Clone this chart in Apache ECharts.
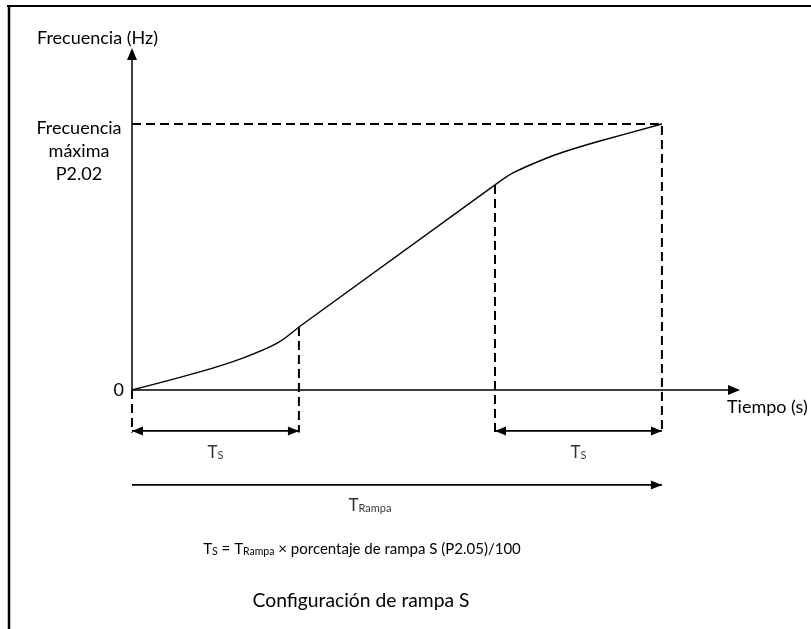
<!DOCTYPE html>
<html>
<head>
<meta charset="utf-8">
<script src="https://cdn.jsdelivr.net/npm/echarts@6/dist/echarts.min.js"></script>
<style>
  html, body { margin: 0; padding: 0; background: #fff; }
  #chart { width: 811px; height: 629px; }
</style>
</head>
<body>
<div id="chart"></div>
<script>
// Time in % of T_Rampa, frequency in % of the maximum frequency (P2.02)
const rampEnd = 100;
const maxFreq = 100;
const sStartEnd = 31.5;   // end of the first S segment (Ts)
const sEndStart = 68.5;   // start of the last S segment (T_Rampa - Ts)

// S-curve, split into its three parts
const startCurveX = [0, 12.8, 20.9, 27.4, 31.5];
const startCurveY = [0, 6.8, 12.0, 17.6, 23.7];
const linearX = [31.5, 68.5];
const linearY = [23.7, 77.1];
const endCurveX = [68.5, 71.9, 78.3, 82.6, 88.3, 100];
const endCurveY = [77.1, 81.6, 87.2, 90.2, 93.6, 100];

// Levels below the time axis used by the dimension arrows
const guideBottom = -16;
const tsArrowLevel = -15.4;
const rampArrowLevel = -35.7;
const tsLabelLevel = -22.6;
const rampLabelLevel = -42.5;
const rampLabelX = 44.9;

const yTickLabels = ['0', 'Frecuencia\nmáxima\nP2.02'];
const xAxisName = 'Tiempo (s)';
const yAxisName = 'Frecuencia (Hz)';
const formulaParts = ['T', 'S', ' = T', 'Rampa', ' × porcentaje de rampa S (P2.05)/100'];
const chartTitle = 'Configuración de rampa S';

const FONT = 'Lato';
const INK = '#000';

const zip = (xs, ys) => xs.map((x, i) => [x, ys[i]]);

function guide(points) {
  return {
    type: 'line', data: points, symbol: 'none', clip: false, silent: true,
    lineStyle: { color: INK, width: 2, type: [9, 5] }, z: 3
  };
}

function dimensionArrow(x0, x1, y, both) {
  const head = [9, 11];
  const pts = [
    { value: [x0, y], symbol: both ? 'triangle' : 'none', symbolSize: head, symbolRotate: 90, symbolOffset: [head[1] / 2, 0] },
    { value: [x1, y], symbol: 'triangle', symbolSize: head, symbolRotate: -90, symbolOffset: [-head[1] / 2, 0] }
  ];
  return {
    type: 'line', data: pts, clip: false, silent: true, showSymbol: true,
    itemStyle: { color: INK }, lineStyle: { color: INK, width: 1.8 }, z: 4
  };
}

function curve(xs, ys, smooth) {
  return {
    type: 'line', data: zip(xs, ys), smooth: smooth, symbol: 'none',
    lineStyle: { color: INK, width: 1.4 }, z: 5
  };
}

const chart = echarts.init(document.getElementById('chart'), null, { renderer: 'canvas' });

const option = {
  backgroundColor: '#fff',
  animation: false,
  textStyle: { fontFamily: FONT, color: INK },
  grid: { left: 132, right: 77, top: 54, bottom: 239, containLabel: false, outerBoundsMode: 'none' },
  title: [
    {
      text: '{n|' + formulaParts[0] + '}{k|' + formulaParts[1] + '}{n|' + formulaParts[2] + '}{k|' + formulaParts[3] + '}{n|' + formulaParts[4] + '}',
      left: 357, top: 533, textAlign: 'center',
      textStyle: {
        fontWeight: 'normal',
        rich: {
          n: { fontFamily: FONT, fontSize: 15, fontWeight: 'normal', color: INK, lineHeight: 19, verticalAlign: 'bottom' },
          k: { fontFamily: FONT, fontSize: 10.5, fontWeight: 'normal', color: INK, lineHeight: 15, verticalAlign: 'bottom' }
        }
      }
    },
    {
      text: chartTitle, left: 356, top: 586, textAlign: 'center',
      textStyle: { fontFamily: FONT, fontSize: 19.3, fontWeight: 'normal', color: INK }
    }
  ],
  xAxis: {
    type: 'value', min: 0, max: 113.6,
    name: xAxisName, nameLocation: 'end', nameGap: -7,
    nameTextStyle: { fontFamily: FONT, fontSize: 18, color: INK, align: 'left', verticalAlign: 'top', padding: [8, 0, 0, 0] },
    axisLine: { show: true, onZero: true, lineStyle: { color: INK, width: 1.5 }, symbol: ['none', 'triangle'], symbolSize: [10, 12] },
    axisTick: { show: false }, axisLabel: { show: false }, splitLine: { show: false }
  },
  yAxis: {
    type: 'value', min: 0, max: 126.3, interval: maxFreq,
    name: yAxisName, nameLocation: 'end', nameGap: 7,
    nameTextStyle: { fontFamily: FONT, fontSize: 18, color: INK, align: 'center', verticalAlign: 'bottom', padding: [0, 69, 0, 0] },
    axisLine: { show: true, lineStyle: { color: INK, width: 1.5 }, symbol: ['none', 'triangle'], symbolSize: [10, 12] },
    axisTick: { show: false }, splitLine: { show: false },
    axisLabel: {
      show: true, margin: 8, color: INK, fontFamily: FONT, fontSize: 18,
      showMaxLabel: false,
      formatter: function (v) {
        if (v === 0) return yTickLabels[0];
        if (v === maxFreq) {
          return '{gap|\u00a0}\n' + yTickLabels[1].split('\n').map(s => '{m|' + s + '}').join('\n');
        }
        return '';
      },
      rich: {
        gap: { fontSize: 1, lineHeight: 54 },
        m: { fontFamily: FONT, fontSize: 18, color: INK, lineHeight: 23, width: 90, align: 'center' }
      }
    }
  },
  graphic: [
    { type: 'line', shape: { x1: 7, y1: 6, x2: 811, y2: 6 }, style: { stroke: INK, lineWidth: 2 }, silent: true },
    { type: 'line', shape: { x1: 9, y1: 5, x2: 9, y2: 629 }, style: { stroke: INK, lineWidth: 2.5 }, silent: true }
  ],
  series: [
    curve(startCurveX, startCurveY, 0.3),
    curve(linearX, linearY, false),
    curve(endCurveX, endCurveY, 0.3),

    guide([[0, maxFreq], [rampEnd, maxFreq], [rampEnd, guideBottom]]),
    guide([[sEndStart, linearY[1]], [sEndStart, guideBottom]]),
    guide([[sStartEnd, linearY[0]], [sStartEnd, guideBottom]]),
    guide([[0, 0], [0, guideBottom]]),

    dimensionArrow(0, sStartEnd, tsArrowLevel, true),
    dimensionArrow(sEndStart, rampEnd, tsArrowLevel, true),
    dimensionArrow(0, rampEnd, rampArrowLevel, false),

    {
      type: 'scatter', clip: false, silent: true, symbolSize: 0,
      data: [
        { value: [sStartEnd / 2, tsLabelLevel], name: 'S' },
        { value: [(sEndStart + rampEnd) / 2, tsLabelLevel], name: 'S' },
        { value: [rampLabelX, rampLabelLevel], name: 'Rampa' }
      ],
      label: {
        show: true, position: 'inside',
        formatter: p => '{t|T}{s|' + p.name + '}',
        rich: {
          t: { fontFamily: FONT, fontSize: 17, color: INK, lineHeight: 21, verticalAlign: 'bottom' },
          s: { fontFamily: FONT, fontSize: 11, color: INK, lineHeight: 11, verticalAlign: 'bottom' }
        }
      }
    }
  ]
};

chart.setOption(option);
</script>
</body>
</html>
